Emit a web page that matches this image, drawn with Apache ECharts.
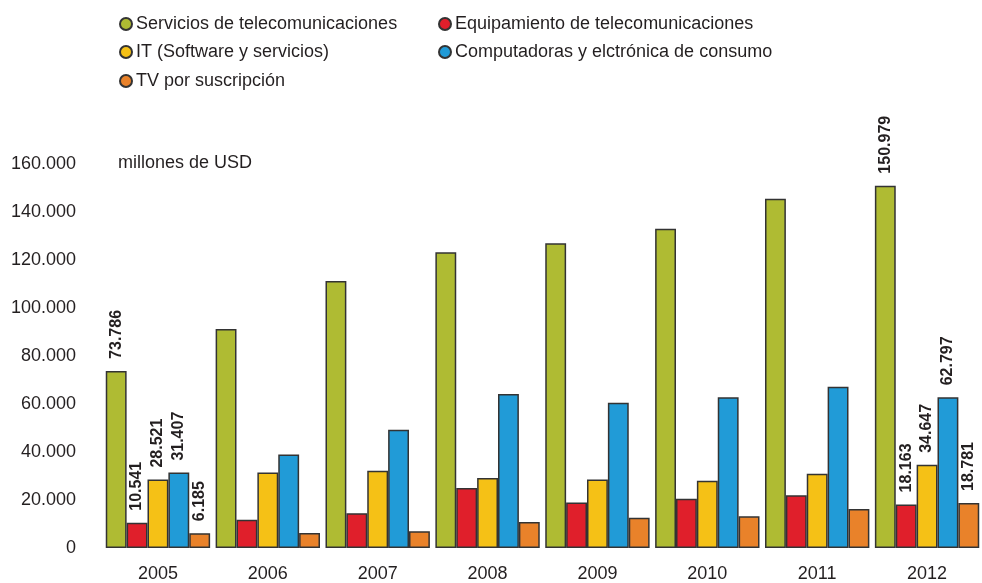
<!DOCTYPE html>
<html>
<head>
<meta charset="utf-8">
<script src="https://cdn.jsdelivr.net/npm/echarts@6/dist/echarts.min.js"></script>
<style>
html,body{margin:0;padding:0;background:#fff;}
#chart{width:982px;height:583px;}
</style>
</head>
<body>
<div id="chart"></div>
<script>
const years = ['2005','2006','2007','2008','2009','2010','2011','2012'];
const seriesNames = ['Servicios de telecomunicaciones','Equipamiento de telecomunicaciones','IT (Software y servicios)','Computadoras y elctrónica de consumo','TV por suscripción'];
const serviciosTelecom = [73786, 91200, 111300, 123200, 127000, 133000, 145500, 150979];
const equipamientoTelecom = [10541, 11800, 14500, 25000, 19000, 20500, 22000, 18163];
const itSoftware = [28521, 31500, 32200, 29200, 28500, 28000, 30900, 34647];
const computadoras = [31407, 39000, 49300, 64200, 60500, 62800, 67200, 62797];
const tvSuscripcion = [6185, 6300, 7000, 10800, 12600, 13200, 16300, 18781];
const yTicks = [0, 20000, 40000, 60000, 80000, 100000, 120000, 140000, 160000];
const colors = ['#AFBB33','#E01F2B','#F5C116','#219BD7','#E9822A'];

const FONT = 'Liberation Sans, Arial, sans-serif';
const TXT = '#231f20';
function fmt(v){ return String(v).replace(/\B(?=(\d{3})+(?!\d))/g,'.'); }

const allValues = [serviciosTelecom, equipamientoTelecom, itSoftware, computadoras, tvSuscripcion];
const labeled = [0, years.length - 1];

const series = seriesNames.map((name, s) => ({
  name: name,
  type: 'bar',
  barGap: '0%',
  barCategoryGap: '5%',
  itemStyle: { color: colors[s], borderColor: '#333', borderWidth: 1.5 },
  data: allValues[s].map((v, i) => ({
    value: v,
    label: {
      show: labeled.indexOf(i) >= 0,
      position: 'top',
      rotate: 90,
      align: 'left',
      verticalAlign: 'middle',
      distance: 12,
      fontSize: 16,
      fontWeight: 'bold',
      fontFamily: FONT,
      color: TXT,
      formatter: p => fmt(p.value)
    }
  }))
}));

const legendPos = [
  {left: 119, top: 15},
  {left: 438, top: 15},
  {left: 119, top: 43},
  {left: 438, top: 43},
  {left: 119, top: 72}
];
const legends = seriesNames.map((n, i) => ({
  data: [n],
  left: legendPos[i].left,
  top: legendPos[i].top,
  padding: 0,
  icon: 'circle',
  itemWidth: 12,
  itemHeight: 12,
  itemGap: 5,
  selectedMode: false,
  textStyle: { fontSize: 18, fontFamily: FONT, color: TXT, padding: [0,0,0,-1] }
}));

const chart = echarts.init(document.getElementById('chart'));
chart.setOption({
  animation: false,
  color: colors,
  legend: legends,
  grid: { left: 103, width: 881, top: 164, height: 384, containLabel: false },
  xAxis: {
    type: 'category',
    data: years,
    axisLine: { show: false },
    axisTick: { show: false },
    axisLabel: { fontSize: 18, fontFamily: FONT, color: TXT, margin: 17 }
  },
  yAxis: {
    type: 'value',
    min: yTicks[0],
    max: yTicks[yTicks.length - 1],
    interval: yTicks[1] - yTicks[0],
    splitLine: { show: false },
    axisLine: { show: false },
    axisTick: { show: false },
    axisLabel: { fontSize: 18, fontFamily: FONT, color: TXT, margin: 27, formatter: v => fmt(v) }
  },
  graphic: [{
    type: 'text',
    left: 118,
    top: 154,
    style: { text: 'millones de USD', fontSize: 18, fontFamily: FONT, fill: TXT }
  }],
  series: series
});
</script>
</body>
</html>
